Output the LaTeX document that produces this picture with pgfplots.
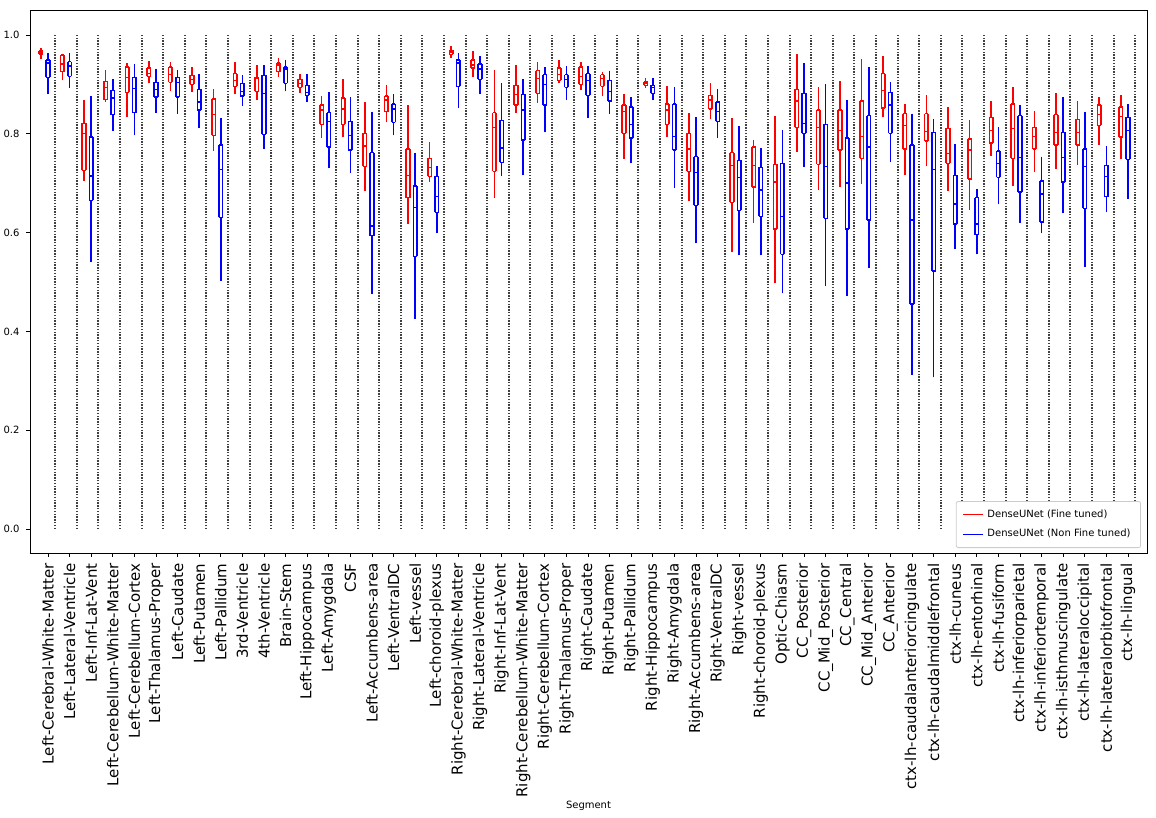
\documentclass[border=0pt]{standalone}
\usepackage{fontspec}
\setmainfont{DejaVu Sans}
\usepackage{pgfplots}
\usepackage{pgfplotstable}
\pgfplotsset{compat=1.18}

% lower whisker, lower quartile, median, upper quartile, upper whisker
\pgfplotstableread{
lw lq med uq uw
0.953 0.962 0.965 0.968 0.972
0.910 0.926 0.941 0.959 0.960
0.706 0.726 0.801 0.821 0.866
0.867 0.869 0.894 0.906 0.928
0.835 0.884 0.914 0.935 0.941
0.904 0.916 0.922 0.933 0.945
0.888 0.904 0.920 0.935 0.943
0.886 0.900 0.910 0.918 0.933
0.767 0.797 0.839 0.870 0.888
0.882 0.896 0.908 0.922 0.943
0.870 0.886 0.912 0.914 0.937
0.916 0.926 0.939 0.943 0.951
0.884 0.894 0.902 0.910 0.920
0.793 0.819 0.848 0.858 0.874
0.795 0.819 0.850 0.872 0.908
0.686 0.734 0.775 0.801 0.862
0.825 0.845 0.868 0.876 0.896
0.619 0.671 0.716 0.769 0.856
0.704 0.714 0.732 0.750 0.781
0.955 0.961 0.966 0.969 0.975
0.916 0.933 0.939 0.949 0.965
0.673 0.724 0.813 0.843 0.928
0.845 0.858 0.880 0.898 0.937
0.864 0.882 0.912 0.928 0.943
0.904 0.908 0.920 0.933 0.947
0.890 0.900 0.916 0.935 0.943
0.878 0.896 0.912 0.920 0.924
0.752 0.801 0.845 0.858 0.878
0.894 0.898 0.902 0.905 0.910
0.795 0.819 0.848 0.860 0.894
0.665 0.724 0.769 0.801 0.841
0.831 0.850 0.868 0.878 0.900
0.562 0.661 0.736 0.762 0.829
0.621 0.692 0.736 0.773 0.785
0.499 0.607 0.702 0.738 0.833
0.765 0.813 0.866 0.890 0.959
0.688 0.738 0.813 0.848 0.892
0.694 0.767 0.807 0.848 0.904
0.700 0.750 0.795 0.866 0.949
0.835 0.852 0.888 0.922 0.955
0.718 0.769 0.817 0.841 0.859
0.736 0.785 0.805 0.841 0.876
0.686 0.740 0.760 0.811 0.852
0.647 0.708 0.767 0.789 0.825
0.758 0.781 0.807 0.833 0.864
0.696 0.750 0.811 0.860 0.892
0.724 0.769 0.795 0.813 0.845
0.730 0.777 0.803 0.839 0.880
0.738 0.777 0.803 0.829 0.864
0.779 0.817 0.839 0.858 0.872
0.750 0.793 0.835 0.854 0.876
}\fine

\pgfplotstableread{
lw lq med uq uw
0.882 0.914 0.943 0.949 0.961
0.895 0.916 0.937 0.946 0.961
0.542 0.665 0.715 0.793 0.874
0.808 0.839 0.872 0.888 0.908
0.799 0.843 0.892 0.914 0.939
0.845 0.874 0.890 0.904 0.930
0.843 0.874 0.904 0.914 0.928
0.813 0.848 0.864 0.890 0.918
0.505 0.631 0.728 0.777 0.829
0.858 0.876 0.886 0.902 0.916
0.771 0.799 0.882 0.918 0.937
0.888 0.902 0.931 0.935 0.947
0.866 0.878 0.884 0.898 0.918
0.732 0.773 0.825 0.843 0.882
0.723 0.767 0.797 0.825 0.872
0.477 0.594 0.613 0.762 0.843
0.799 0.823 0.850 0.860 0.878
0.428 0.552 0.651 0.694 0.760
0.601 0.641 0.673 0.714 0.732
0.854 0.896 0.943 0.949 0.961
0.882 0.910 0.931 0.941 0.955
0.716 0.742 0.771 0.827 0.900
0.718 0.787 0.848 0.880 0.908
0.805 0.858 0.900 0.920 0.933
0.870 0.894 0.910 0.920 0.935
0.833 0.878 0.908 0.922 0.935
0.843 0.866 0.886 0.908 0.926
0.742 0.791 0.819 0.854 0.872
0.870 0.882 0.894 0.898 0.910
0.692 0.767 0.795 0.860 0.892
0.580 0.655 0.722 0.754 0.831
0.793 0.825 0.845 0.864 0.888
0.556 0.645 0.712 0.746 0.813
0.556 0.633 0.686 0.732 0.769
0.479 0.556 0.633 0.740 0.805
0.734 0.801 0.821 0.882 0.941
0.493 0.629 0.734 0.819 0.898
0.473 0.607 0.700 0.791 0.866
0.530 0.625 0.773 0.837 0.933
0.744 0.801 0.858 0.884 0.902
0.314 0.455 0.625 0.777 0.839
0.309 0.522 0.728 0.803 0.827
0.568 0.617 0.658 0.716 0.777
0.558 0.596 0.617 0.671 0.686
0.659 0.712 0.740 0.765 0.811
0.621 0.682 0.752 0.837 0.856
0.601 0.621 0.678 0.704 0.752
0.641 0.702 0.752 0.803 0.872
0.532 0.649 0.734 0.769 0.843
0.643 0.673 0.714 0.736 0.773
0.671 0.748 0.807 0.833 0.858
}\nonfine

\pgfplotsset{
  % horizontal strokes: box edges and median, in colour #1
  hbar/.style={draw=none, mark=-,
    mark options={draw=#1, solid, mark size=0.95pt, line width=0.75pt}},
  % vertical strokes as error bars, in colour #1
  vbar/.style={draw=none, mark=none,
    error bars/.cd, y dir=plus, y explicit, error mark=none,
    error bar style={draw=#1, solid, line width=0.75pt}},
  wlow/.style={draw=none, mark=none,
    error bars/.cd, y dir=minus, y explicit, error mark=-,
    error bar style={draw=#1, solid, line width=0.75pt},
    error mark options={draw=#1, solid, mark size=0.5pt, line width=0.75pt}},
  whigh/.style={draw=none, mark=none,
    error bars/.cd, y dir=plus, y explicit, error mark=-,
    error bar style={draw=#1, solid, line width=0.75pt},
    error mark options={draw=#1, solid, mark size=0.5pt, line width=0.75pt}},
}

% draws every box of table #1 at offset #2 in colour #3
\newcommand\boxes[3]{%
  \addplot[forget plot, hbar=#3] table[x expr=\coordindex+#2, y=lq] {#1};
  \addplot[forget plot, hbar=#3] table[x expr=\coordindex+#2, y=uq] {#1};
  \addplot[forget plot, hbar=#3] table[x expr=\coordindex+#2, y=med] {#1};
  \addplot[forget plot, vbar=#3] table[x expr=\coordindex+#2-0.083, y=lq,
    y error expr=\thisrow{uq}-\thisrow{lq}] {#1};
  \addplot[forget plot, vbar=#3] table[x expr=\coordindex+#2+0.083, y=lq,
    y error expr=\thisrow{uq}-\thisrow{lq}] {#1};
  \addplot[forget plot, wlow=#3] table[x expr=\coordindex+#2, y=lq,
    y error expr=\thisrow{lq}-\thisrow{lw}] {#1};
  \addplot[forget plot, whigh=#3] table[x expr=\coordindex+#2, y=uq,
    y error expr=\thisrow{uw}-\thisrow{uq}] {#1};
}

\begin{document}
\begin{tikzpicture}
\begin{axis}[
    name=ax,
    scale only axis,
    width=558.5pt, height=271.5pt,
    xmin=0.1667, xmax=51.88,
    ymin=-0.0486, ymax=1.0506,
    axis line style={line width=0.4pt},
    tick style={black, line width=0.4pt},
    tick align=outside,
    major tick length=1.75pt,
    xtick pos=left, ytick pos=left,
    xtick={1,...,51},
    xticklabels={Left-Cerebral-White-Matter, Left-Lateral-Ventricle, Left-Inf-Lat-Vent,
      Left-Cerebellum-White-Matter, Left-Cerebellum-Cortex, Left-Thalamus-Proper,
      Left-Caudate, Left-Putamen, Left-Pallidum, 3rd-Ventricle, 4th-Ventricle,
      Brain-Stem, Left-Hippocampus, Left-Amygdala, CSF, Left-Accumbens-area,
      Left-VentralDC, Left-vessel, Left-choroid-plexus, Right-Cerebral-White-Matter,
      Right-Lateral-Ventricle, Right-Inf-Lat-Vent, Right-Cerebellum-White-Matter,
      Right-Cerebellum-Cortex, Right-Thalamus-Proper, Right-Caudate, Right-Putamen,
      Right-Pallidum, Right-Hippocampus, Right-Amygdala, Right-Accumbens-area,
      Right-VentralDC, Right-vessel, Right-choroid-plexus, Optic-Chiasm,
      CC\_Posterior, CC\_Mid\_Posterior, CC\_Central, CC\_Mid\_Anterior, CC\_Anterior,
      ctx-lh-caudalanteriorcingulate, ctx-lh-caudalmiddlefrontal, ctx-lh-cuneus,
      ctx-lh-entorhinal, ctx-lh-fusiform, ctx-lh-inferiorparietal,
      ctx-lh-inferiortemporal, ctx-lh-isthmuscingulate, ctx-lh-lateraloccipital,
      ctx-lh-lateralorbitofrontal, ctx-lh-lingual},
    xticklabel style={rotate=90, anchor=east, font=\fontsize{7.5}{9}\selectfont},
    ytick={0,0.2,0.4,0.6,0.8,1},
    yticklabel style={font=\fontsize{5}{6}\selectfont,
      /pgf/number format/.cd, fixed, fixed zerofill, precision=1, assume math mode=true},
    xlabel={Segment},
    xlabel style={font=\fontsize{5}{6}\selectfont, at={(axis description cs:0.5,0)},
      anchor=base, yshift=-127.5pt},
    legend style={at={(axis description cs:0.9946,0.0092)}, anchor=south east,
      font=\fontsize{5}{6}\selectfont, draw=black!20, rounded corners=1pt,
      line width=0.4pt, row sep=0.5pt},
    legend cell align=left,
    legend image code/.code={\draw[#1, line width=0.6pt] (0pt,0pt) -- (10pt,0pt);},
]
% dotted separators between segments
\addplot[ycomb, forget plot, black!75, line width=1pt, dash pattern=on 0.7pt off 0.7pt]
  table[x expr=\coordindex+1.3333, y expr=1] {\fine};

\boxes{\fine}{0.6667}{red}
\boxes{\nonfine}{1}{blue}

\addlegendimage{red}
\addlegendentry{DenseUNet (Fine tuned)}
\addlegendimage{blue}
\addlegendentry{DenseUNet (Non Fine tuned)}
\end{axis}
\pgfresetboundingbox
\path ([xshift=-15pt, yshift=-132.5pt]ax.south west) rectangle ([xshift=4.5pt, yshift=5pt]ax.north east);
\end{tikzpicture}
\end{document}
